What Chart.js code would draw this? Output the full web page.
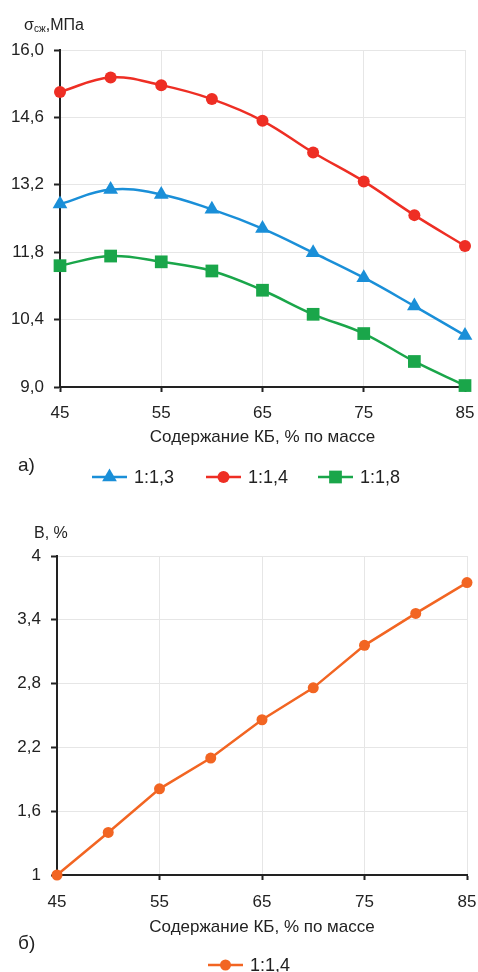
<!DOCTYPE html>
<html lang="ru">
<head>
<meta charset="utf-8">
<title>Прочность и водопоглощение</title>
<script src="https://cdn.jsdelivr.net/npm/chart.js@4/dist/chart.umd.min.js"></script>
<style>
  body { margin: 0; background: #fff; font-family: "Liberation Sans", Arial, sans-serif; color: #222; }
  .wrap { position: relative; width: 478px; height: 972px; }
  .box { position: absolute; left: 0; width: 478px; }
  .lbl { position: absolute; font-size: 16px; line-height: 1; white-space: nowrap; }
  .lbl sub { font-size: 10px; vertical-align: -2px; }
  .panel { position: absolute; font-size: 19px; line-height: 1; }
</style>
</head>
<body>
<div class="wrap">
  <div class="box" style="top:0;height:490px"><canvas id="strengthChart"></canvas></div>
  <div class="box" style="top:500px;height:472px"><canvas id="absorbChart"></canvas></div>
  <div class="lbl" style="left:24px;top:17px">σ<sub>сж</sub>,МПа</div>
  <div class="panel" style="left:18px;top:455px">а)</div>
  <div class="lbl" style="left:34px;top:525px">В, %</div>
  <div class="panel" style="left:18px;top:933px">б)</div>
</div>
<script>
// --- data ---
const contentKB = [45, 50, 55, 60, 65, 70, 75, 80, 85];
const series13 = [12.80, 13.10, 13.00, 12.69, 12.29, 11.79, 11.27, 10.68, 10.07];
const series14 = [15.13, 15.43, 15.27, 14.98, 14.53, 13.87, 13.27, 12.57, 11.93];
const series18 = [11.52, 11.72, 11.60, 11.41, 11.01, 10.51, 10.11, 9.53, 9.03];
const absorb14 = [1.00, 1.40, 1.81, 2.10, 2.46, 2.76, 3.16, 3.46, 3.75];
const strengthTicks = [9.0, 10.4, 11.8, 13.2, 14.6, 16.0];
const absorbTicks = [1, 1.6, 2.2, 2.8, 3.4, 4];

const xTitle = "Содержание КБ, % по массе";
const font = { family: "'Liberation Sans', Arial, sans-serif", size: 17 };
const gridColor = "#e6e6e6";

function pts(ys) {
  return ys.map((y, i) => ({ x: contentKB[i], y: y }));
}

// legend: line segment + marker, drawn on the canvas under the axis title
const lineLegend = {
  id: "lineLegend",
  afterDraw(chart, args, opts) {
    const ctx = chart.ctx;
    ctx.save();
    ctx.font = "18px " + font.family;
    ctx.textBaseline = "middle";
    chart.data.datasets.forEach((ds, i) => {
      const x = opts.xs[i];
      const y = opts.y;
      ctx.strokeStyle = ds.borderColor;
      ctx.lineWidth = 2.5;
      ctx.beginPath();
      ctx.moveTo(x, y);
      ctx.lineTo(x + 35, y);
      ctx.stroke();
      ctx.fillStyle = ds.pointBackgroundColor;
      Chart.helpers.drawPoint(ctx, {
        pointStyle: ds.pointStyle,
        radius: ds.pointRadius,
        borderWidth: 0
      }, x + 17.5, y);
      ctx.fillStyle = "#222";
      ctx.fillText(ds.label, x + 42, y + 1);
    });
    ctx.restore();
  }
};

function xScale(tickPad, height) {
  return {
    type: "linear",
    min: 45,
    max: 85,
    ticks: { stepSize: 10, color: "#222", font: font, padding: tickPad },
    grid: { color: gridColor, tickColor: "#222", tickLength: 5, tickWidth: 2 },
    border: { color: "#222", width: 2 },
    title: { display: true, text: xTitle, color: "#222", font: font, padding: { top: 0, bottom: 2 } },
    afterFit: (s) => { s.height = height; s.paddingLeft = 0; s.paddingRight = 0; }
  };
}

function yScale(tickVals, fmt, width) {
  return {
    min: tickVals[0],
    max: tickVals[tickVals.length - 1],
    afterBuildTicks: (s) => { s.ticks = tickVals.map(v => ({ value: v })); },
    ticks: { color: "#222", font: font, padding: 10, callback: fmt },
    grid: { color: gridColor, tickColor: "#222", tickLength: 6, tickWidth: 2 },
    border: { color: "#222", width: 2 },
    afterFit: (s) => { s.width = width; s.paddingTop = 0; s.paddingBottom = 0; }
  };
}

// --- chart a) compressive strength ---
new Chart(document.getElementById("strengthChart"), {
  type: "line",
  data: {
    datasets: [
      {
        label: "1:1,3", data: pts(series13),
        borderColor: "#1a8fd8", pointBackgroundColor: "#1a8fd8",
        pointStyle: "triangle", pointRadius: 8.5
      },
      {
        label: "1:1,4", data: pts(series14),
        borderColor: "#ee2e24", pointBackgroundColor: "#ee2e24",
        pointStyle: "circle", pointRadius: 6
      },
      {
        label: "1:1,8", data: pts(series18),
        borderColor: "#1aa64a", pointBackgroundColor: "#1aa64a",
        pointStyle: "rect", pointRadius: 9
      }
    ].map(d => Object.assign(d, { borderWidth: 2.5, pointBorderWidth: 0, tension: 0.4, clip: false }))
  },
  options: {
    responsive: true,
    maintainAspectRatio: false,
    animation: false,
    layout: { padding: { top: 50, right: 13, left: 0, bottom: 40 } },
    scales: {
      x: xScale(11, 63),
      y: yScale(strengthTicks, v => v.toFixed(1).replace(".", ","), 60)
    },
    plugins: {
      legend: { display: false },
      tooltip: { enabled: false },
      lineLegend: { y: 477, xs: [92, 206, 318] }
    }
  },
  plugins: [lineLegend]
});

// --- chart б) water absorption ---
new Chart(document.getElementById("absorbChart"), {
  type: "line",
  data: {
    datasets: [
      {
        label: "1:1,4", data: pts(absorb14),
        borderColor: "#f26522", pointBackgroundColor: "#f26522",
        pointStyle: "circle", pointRadius: 5.5,
        borderWidth: 2.5, pointBorderWidth: 0, tension: 0, clip: false
      }
    ]
  },
  options: {
    responsive: true,
    maintainAspectRatio: false,
    animation: false,
    layout: { padding: { top: 56, right: 11, left: 0, bottom: 32 } },
    scales: {
      x: xScale(12, 65),
      y: yScale(absorbTicks, v => String(Math.round(v * 10) / 10).replace(".", ","), 57)
    },
    plugins: {
      legend: { display: false },
      tooltip: { enabled: false },
      lineLegend: { y: 465, xs: [208] }
    }
  },
  plugins: [lineLegend]
});
</script>
</body>
</html>
